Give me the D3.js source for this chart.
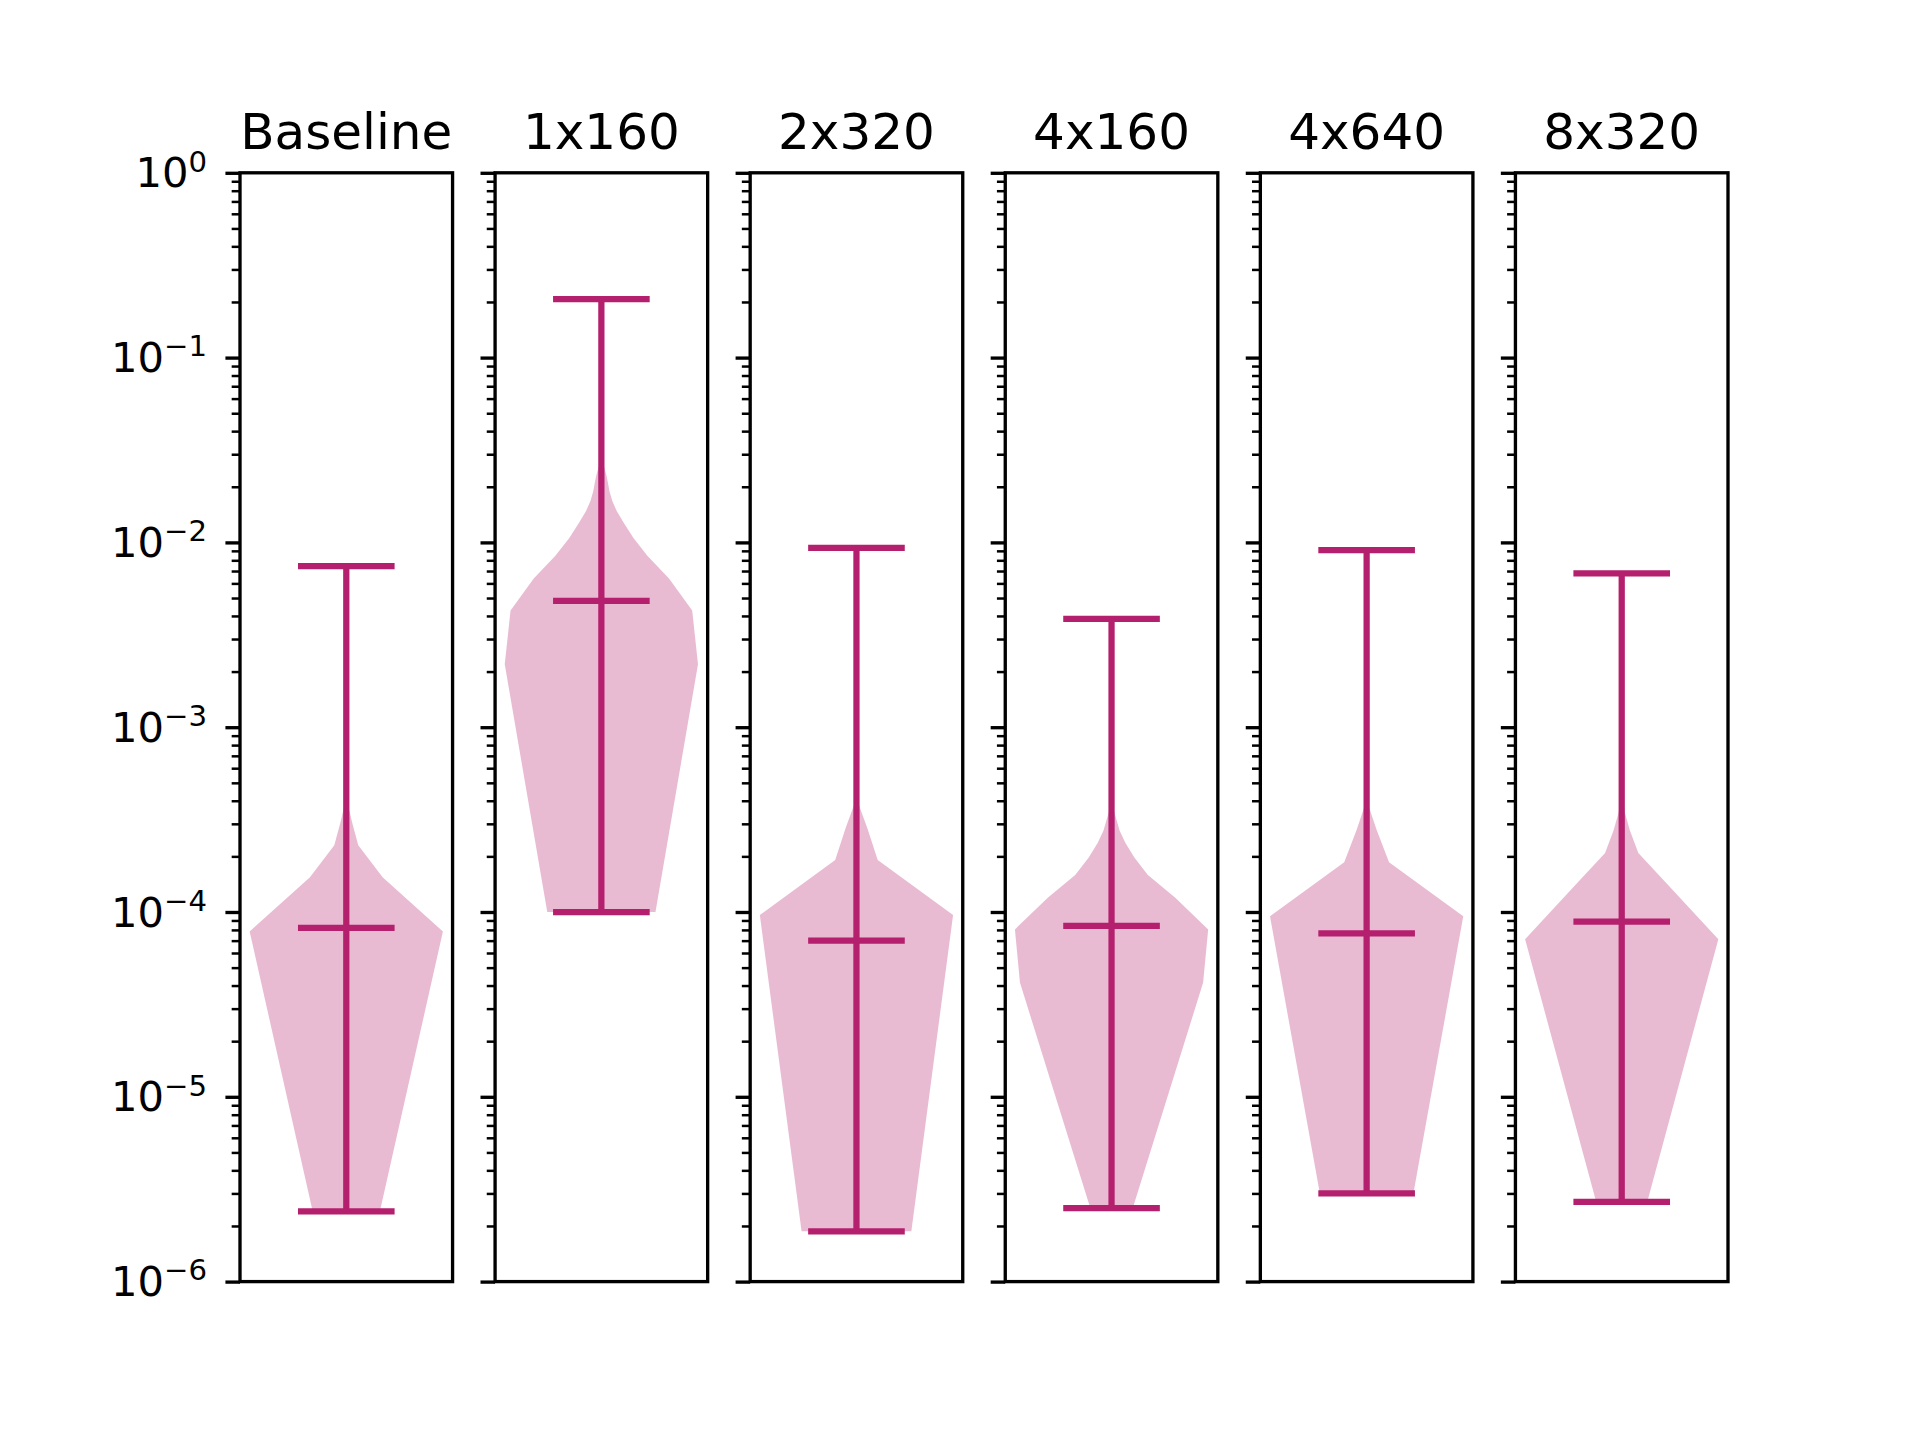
<!DOCTYPE html>
<html>
<head>
<meta charset="utf-8">
<script src="https://cdn.jsdelivr.net/npm/d3@7"></script>
<style>
  body { margin: 0; background: #ffffff; }
  text { font-family: "DejaVu Sans", sans-serif; fill: #000000; }
</style>
</head>
<body>
<div id="chart"></div>
<script>
// panel titles
const panels = ["Baseline", "1x160", "2x320", "4x160", "4x640", "8x320"];

// violin summary lines
const minima = [2.4e-6, 1.0e-4, 1.87e-6, 2.5e-6, 3.0e-6, 2.7e-6];
const maxima = [7.44e-3, 0.207, 9.35e-3, 3.86e-3, 9.08e-3, 6.79e-3];
const centres = [8.2e-5, 4.83e-3, 7.0e-5, 8.4e-5, 7.65e-5, 8.88e-5];

// violin outline: evaluation points and half widths (widest = 0.25)
const profileValues = [
  [2.4e-6, 7.85e-5, 1.54e-4, 2.3e-4, 3.06e-4, 3.83e-4, 4.6e-4, 7.44e-3],
  [1.0e-4, 2.19e-3, 4.28e-3, 6.37e-3, 8.46e-3, 1.055e-2, 1.264e-2, 1.473e-2,
   1.68e-2, 1.89e-2, 2.1e-2, 2.31e-2, 2.52e-2, 2.73e-2, 2.94e-2, 0.207],
  [1.87e-6, 9.63e-5, 1.91e-4, 2.85e-4, 3.8e-4, 4.74e-4, 9.35e-3],
  [2.5e-6, 4.15e-5, 8.05e-5, 1.195e-4, 1.585e-4, 1.975e-4, 2.365e-4, 2.755e-4,
   3.145e-4, 3.535e-4, 3.925e-4, 3.86e-3],
  [3.0e-6, 9.47e-5, 1.86e-4, 2.78e-4, 3.7e-4, 4.6e-4, 9.08e-3],
  [2.7e-6, 7.13e-5, 1.4e-4, 2.085e-4, 2.77e-4, 3.46e-4, 4.15e-4, 6.79e-3]
];
const profileHalfWidths = [
  [0.087, 0.25, 0.094, 0.031, 0.015, 0.004, 0.001, 0],
  [0.140, 0.25, 0.235, 0.175, 0.119, 0.083, 0.059, 0.040,
   0.028, 0.021, 0.017, 0.013, 0.008, 0.004, 0.002, 0],
  [0.142, 0.25, 0.055, 0.028, 0.006, 0.001, 0],
  [0.055, 0.237, 0.25, 0.165, 0.094, 0.059, 0.036, 0.021,
   0.013, 0.006, 0.002, 0],
  [0.121, 0.25, 0.058, 0.026, 0.006, 0.001, 0],
  [0.066, 0.25, 0.12, 0.043, 0.021, 0.008, 0.002, 0]
];

const majorTicks = [1e-6, 1e-5, 1e-4, 1e-3, 1e-2, 1e-1, 1e0];
const majorExponents = ["\u22126", "\u22125", "\u22124", "\u22123", "\u22122", "\u22121", "0"];

// figure geometry (matplotlib-like subplot params)
const figW = 1920;
const figH = 1440;
const plotLeft = 0.125 * figW;
const plotRight = 0.9 * figW;
const plotTop = (1 - 0.88) * figH;
const plotBottom = (1 - 0.11) * figH;
const wspace = 0.2;
const nPanels = panels.length;
const panelWidth = (plotRight - plotLeft) / (nPanels + (nPanels - 1) * wspace);
const gap = panelWidth * wspace;

const lineColor = "#b41f6e";
const pt = 300 / 72;

const svg = d3.select("#chart").append("svg")
  .attr("width", figW)
  .attr("height", figH)
  .style("background", "#ffffff");

const y = d3.scaleLog()
  .domain([1e-6, 1])
  .range([plotBottom, plotTop]);

const minorTicks = y.ticks().filter(v => majorTicks.every(m => Math.abs(v / m - 1) > 1e-6));

panels.forEach((name, i) => {
  const x0 = plotLeft + i * (panelWidth + gap);
  const x = d3.scaleLinear()
    .domain([0.725, 1.275])
    .range([x0, x0 + panelWidth]);

  const g = svg.append("g").attr("class", "panel");

  // violin body
  const pts = profileValues[i].map((v, k) => [v, profileHalfWidths[i][k]]);
  const area = d3.area()
    .y(d => y(d[0]))
    .x0(d => x(1 - d[1]))
    .x1(d => x(1 + d[1]));
  g.append("path")
    .attr("d", area(pts))
    .attr("fill", lineColor)
    .attr("fill-opacity", 0.3)
    .attr("stroke", "none");

  // vertical bar and caps
  g.append("line")
    .attr("x1", x(1)).attr("x2", x(1))
    .attr("y1", y(minima[i])).attr("y2", y(maxima[i]))
    .attr("stroke", lineColor)
    .attr("stroke-width", 1.5 * pt);

  [minima[i], centres[i], maxima[i]].forEach(v => {
    g.append("line")
      .attr("x1", x(0.875)).attr("x2", x(1.125))
      .attr("y1", y(v)).attr("y2", y(v))
      .attr("stroke", lineColor)
      .attr("stroke-width", 1.5 * pt);
  });

  // minor ticks
  const minorAxis = g.append("g")
    .attr("transform", `translate(${x0},0)`)
    .call(d3.axisLeft(y).tickValues(minorTicks).tickSize(2 * pt).tickFormat(""));
  minorAxis.select(".domain").remove();
  minorAxis.selectAll(".tick line")
    .attr("stroke", "#000000")
    .attr("stroke-width", 0.6 * pt);

  // major ticks
  const majorAxis = g.append("g")
    .attr("transform", `translate(${x0},0)`)
    .call(d3.axisLeft(y).tickValues(majorTicks).tickSize(3.5 * pt).tickFormat(""));
  majorAxis.select(".domain").remove();
  majorAxis.selectAll(".tick line")
    .attr("stroke", "#000000")
    .attr("stroke-width", 0.8 * pt);

  if (i === 0) {
    majorAxis.selectAll(".tick text").remove();
    majorAxis.selectAll(".tick").each(function(d) {
      const t = d3.select(this).append("text")
        .attr("x", -33)
        .attr("y", 14)
        .attr("text-anchor", "end")
        .style("font-size", (10 * pt) + "px");
      t.append("tspan").text("10");
      t.append("tspan")
        .attr("dy", -15.7)
        .style("font-size", (7 * pt) + "px")
        .text(majorExponents[majorTicks.indexOf(d)]);
    });
  }

  // spines
  g.append("rect")
    .attr("x", x0)
    .attr("y", plotTop)
    .attr("width", panelWidth)
    .attr("height", plotBottom - plotTop)
    .attr("fill", "none")
    .attr("stroke", "#000000")
    .attr("stroke-width", 0.8 * pt);

  // title
  g.append("text")
    .attr("x", x0 + panelWidth / 2)
    .attr("y", plotTop - 24)
    .attr("text-anchor", "middle")
    .style("font-size", (12 * pt) + "px")
    .text(name);
});
</script>
</body>
</html>
